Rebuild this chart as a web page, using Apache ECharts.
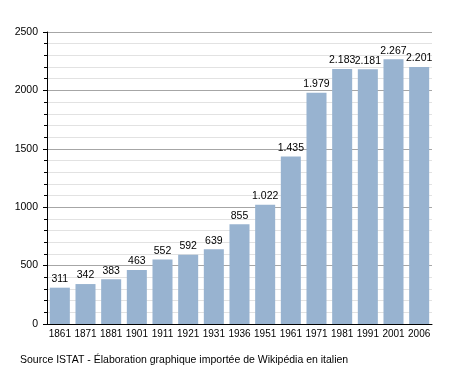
<!DOCTYPE html>
<html><head><meta charset="utf-8">
<script src="https://cdn.jsdelivr.net/npm/echarts@6/dist/echarts.min.js"></script>
<style>html,body{margin:0;padding:0;background:#fff}#c{width:458px;height:373px}</style>
</head><body><div id="c"></div>
<script>
const categories = ['1861','1871','1881','1901','1911','1921','1931','1936','1951','1961','1971','1981','1991','2001','2006'];
const population = [311,342,383,463,552,592,639,855,1022,1435,1979,2183,2181,2267,2201];
const yTicks = [0,500,1000,1500,2000,2500];
const sourceText = 'Source ISTAT - Élaboration graphique importée de Wikipédia en italien';

const fmt = v => v >= 1000 ? Math.floor(v/1000) + '.' + String(v%1000).padStart(3,'0') : String(v);
const chart = echarts.init(document.getElementById('c'), null, {renderer:'canvas'});
chart.setOption({
  animation:false,
  textStyle:{fontFamily:'Liberation Sans, Arial, sans-serif'},
  grid:{left:47,right:26,top:32,bottom:49,containLabel:false},
  xAxis:{type:'category',data:categories,
    axisLine:{lineStyle:{color:'#000',width:1}},
    axisTick:{show:false},
    axisLabel:{color:'#000',fontSize:10,margin:5,interval:0}},
  yAxis:{type:'value',min:yTicks[0],max:yTicks[yTicks.length-1],interval:500,
    axisLine:{show:true,lineStyle:{color:'#000'}},
    axisTick:{show:true,length:4,lineStyle:{color:'#000'}},
    minorTick:{show:true,splitNumber:5,length:3,lineStyle:{color:'#000'}},
    splitLine:{lineStyle:{color:'#a6a6a6',width:1}},
    minorSplitLine:{show:true,lineStyle:{color:'#e2e2e2',width:1}},
    axisLabel:{color:'#000',fontSize:10.5,margin:9,formatter:v=>String(v)}},
  series:[{type:'bar',data:population,barCategoryGap:'22%',
    itemStyle:{color:'#98b3d0'},
    label:{show:true,position:'top',color:'#000',fontSize:10.5,distance:3,formatter:p=>fmt(p.value)}}],
  graphic:[{type:'text',left:20,top:355,style:{text:sourceText,fill:'#000',fontSize:10.5,fontFamily:'Liberation Sans, Arial, sans-serif'}}]
});
</script></body></html>
